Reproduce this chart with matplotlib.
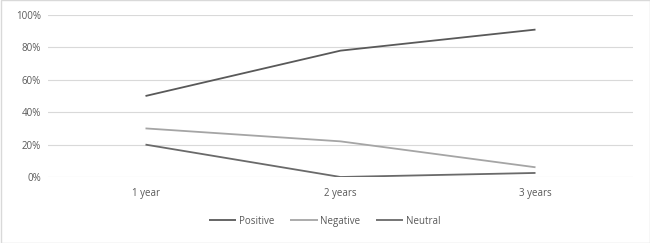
import matplotlib
matplotlib.use("Agg")
import matplotlib.pyplot as plt
from matplotlib.patches import Rectangle

categories = ["1 year", "2 years", "3 years"]
positive = [0.50, 0.78, 0.91]
negative = [0.30, 0.22, 0.06]
neutral = [0.20, 0.00, 0.025]
yticks = [0, 0.2, 0.4, 0.6, 0.8, 1.0]
ytick_labels = ["0%", "20%", "40%", "60%", "80%", "100%"]

plt.rcParams['font.family'] = ['Open Sans', 'DejaVu Sans']

fig = plt.figure(figsize=(6.5, 2.43), dpi=100)
ax = fig.add_axes([48/650, 1-177/243, (633-48)/650, (177-15)/243])

x = list(range(len(categories)))
ax.plot(x, positive, color="#595959", lw=1.3, label="Positive", solid_capstyle="butt")
ax.plot(x, negative, color="#A5A5A5", lw=1.3, label="Negative", solid_capstyle="butt")
ax.plot(x, neutral, color="#6A6A6A", lw=1.3, label="Neutral", solid_capstyle="butt")

ax.set_xlim(-0.5, 2.5)
ax.set_ylim(0, 1.0)
ax.set_yticks(yticks)
ax.set_yticklabels(ytick_labels)
ax.set_xticks(x)
ax.set_xticklabels(categories)
ax.grid(axis="y", color="#D9D9D9", lw=0.8)
ax.set_axisbelow(True)
for s in ax.spines.values():
    s.set_visible(False)
ax.tick_params(length=0, labelsize=7, colors="#595959", pad=5)
ax.tick_params(axis="x", pad=8)

leg = fig.legend(loc="center", bbox_to_anchor=(325/650, 1-221/243), ncol=3, frameon=False,
                 fontsize=7, handlelength=2.8, columnspacing=1.6, handletextpad=0.3)
for t in leg.get_texts():
    t.set_color("#595959")

fig.patches.append(Rectangle((0.5/650, 0.5/243), 1-1/650, 1-1/243, transform=fig.transFigure,
                             fill=False, edgecolor="#D9D9D9", lw=1))
fig.savefig("out.png", dpi=100, facecolor="white")
